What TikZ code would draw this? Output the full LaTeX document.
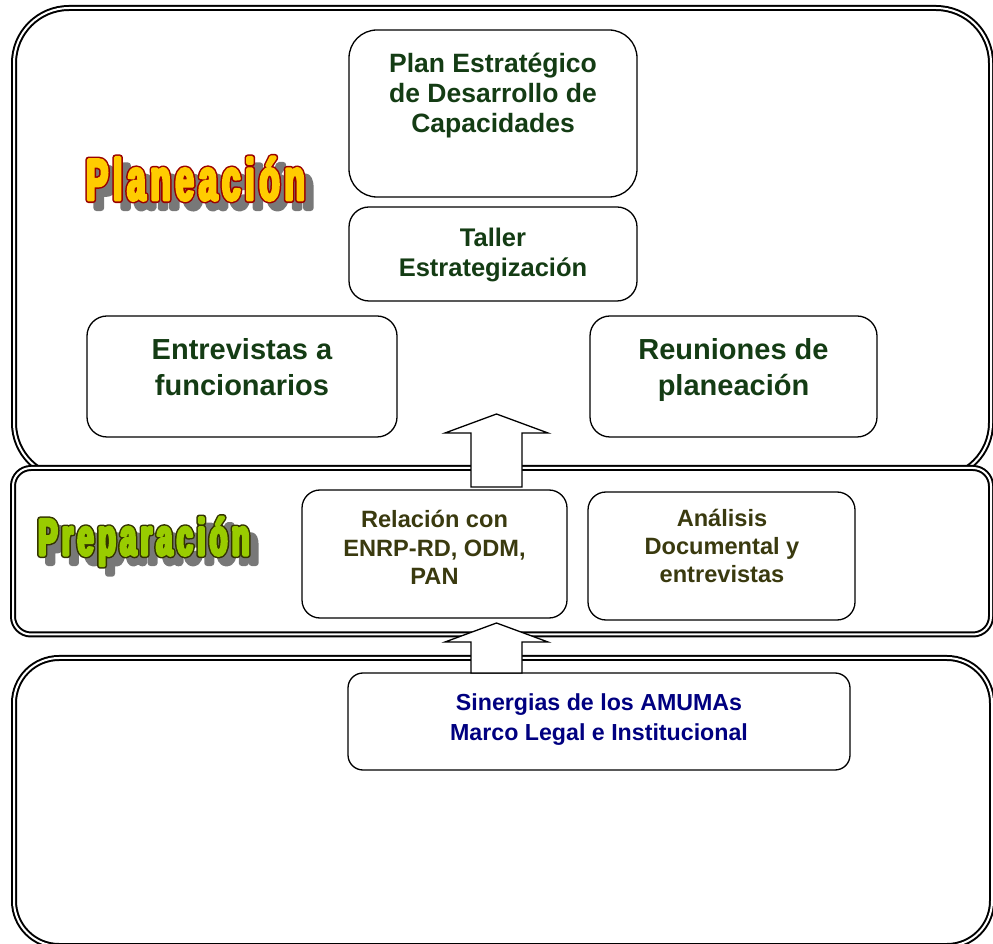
\documentclass[tikz,border=0pt]{standalone}
\usepackage{fontspec}
\setmainfont{Liberation Sans}
\newfontfamily\titlefont[FakeStretch=0.56, LetterSpace=8.5]{Liberation Sans}
\definecolor{dgreen}{RGB}{20,60,20}
\definecolor{dolive}{RGB}{58,58,15}
\definecolor{dnavy}{RGB}{0,0,128}
\definecolor{plfill}{RGB}{255,204,0}
\definecolor{pldark}{RGB}{153,0,0}
\definecolor{prfill}{RGB}{153,204,0}
\definecolor{prdark}{RGB}{51,51,0}
\definecolor{shadowgray}{RGB}{120,120,120}
\newcommand\strokedtext[3]{{\color{#1}\special{pdf:literal direct 1 j #2 w 2 Tr}#3\special{pdf:literal direct 0 Tr}}}
% shadow, dark outline layer, light fill layer, all in one box
\newcommand\heavytitle[3]{\rlap{\kern8pt\raisebox{-8pt}{\strokedtext{shadowgray}{6}{#3}}}\rlap{\strokedtext{#2}{6}{#3}}\strokedtext{#1}{3}{#3}}
\tikzset{
  panel/.style={draw=black, line width=2pt, double=white, double distance=2pt, fill=white},
  box/.style={draw=black, line width=1.3pt, fill=white, rounded corners=20pt, inner sep=0pt},
  blockarrow/.style={draw=black, line width=1.3pt, fill=white, line join=miter},
  txt/.style 2 args={align=center, anchor=base, inner sep=0pt, font=\bfseries\fontsize{#1}{#2}\selectfont},
  titlestyle/.style={anchor=base west, inner sep=0pt},
}
\begin{document}
\begin{tikzpicture}[x=1pt,y=1pt]
\useasboundingbox (0,0) rectangle (993,943);
\clip (0,0) rectangle (993,943);
% panels
\draw[panel, rounded corners=55pt] (14,935) rectangle (991,465);
\draw[panel, rounded corners=18pt] (13,475) rectangle (991,308.5);
\draw[panel, rounded corners=45pt] (14,285) rectangle (992,-3);
% boxes
\node[box, rounded corners=28pt, minimum width=288pt, minimum height=167pt] (planbox) at (493,829.5) {};
\node[box, minimum width=288pt, minimum height=94pt] (tallerbox) at (493,689) {};
\node[box, minimum width=310pt, minimum height=121pt] (entrevbox) at (242,566.5) {};
\node[box, minimum width=287pt, minimum height=121pt] (reunbox) at (733.5,566.5) {};
\node[box, rounded corners=18pt, minimum width=265pt, minimum height=128pt] (relbox) at (434.5,389) {};
\node[box, rounded corners=18pt, minimum width=267pt, minimum height=128pt] (analbox) at (721.5,387) {};
\node[box, rounded corners=15pt, minimum width=502pt, minimum height=97pt] (sinbox) at (599,221.5) {};
% texts (anchor = baseline of last line)
\node[txt={26.5}{30}, text=dgreen] (plan) at (493,810) {Plan Estratégico\\de Desarrollo de\\Capacidades};
\node[txt={25.5}{30}, text=dgreen] (taller) at (493,666) {Taller\\Estrategización};
\node[txt={29}{36}, text=dgreen] (entrev) at (242,547) {Entrevistas a\\funcionarios};
\node[txt={29}{36}, text=dgreen] (reun) at (733.5,547) {Reuniones de\\planeación};
\node[txt={23.6}{28.5}, text=dolive] (rel) at (434.5,358) {Relación con\\ENRP-RD, ODM,\\PAN};
\node[txt={23.6}{28}, text=dolive] (anal) at (722,360) {Análisis\\Documental y\\entrevistas};
\node[txt={23.2}{30}, text=dnavy] (sin) at (599,203) {Sinergias de los AMUMAs\\Marco Legal e Institucional};
% block arrows
\draw[blockarrow] (471,456) -- (471,510) -- (445,510) -- (496.5,529) -- (548,510) -- (522,510) -- (522,456) -- cycle;
\draw[blockarrow] (471,270) -- (471,301) -- (445,301) -- (496.5,320) -- (548,301) -- (522,301) -- (522,270) -- cycle;
% titles
\node[titlestyle, font=\titlefont\bfseries\fontsize{58.7}{62}\selectfont] (pltitle) at (86,743) {\heavytitle{plfill}{pldark}{Planeación}};
\node[titlestyle, font=\titlefont\bfseries\fontsize{51.7}{55}\selectfont] (prtitle) at (38,388) {\heavytitle{prfill}{prdark}{Preparación}};
\end{tikzpicture}
\end{document}
